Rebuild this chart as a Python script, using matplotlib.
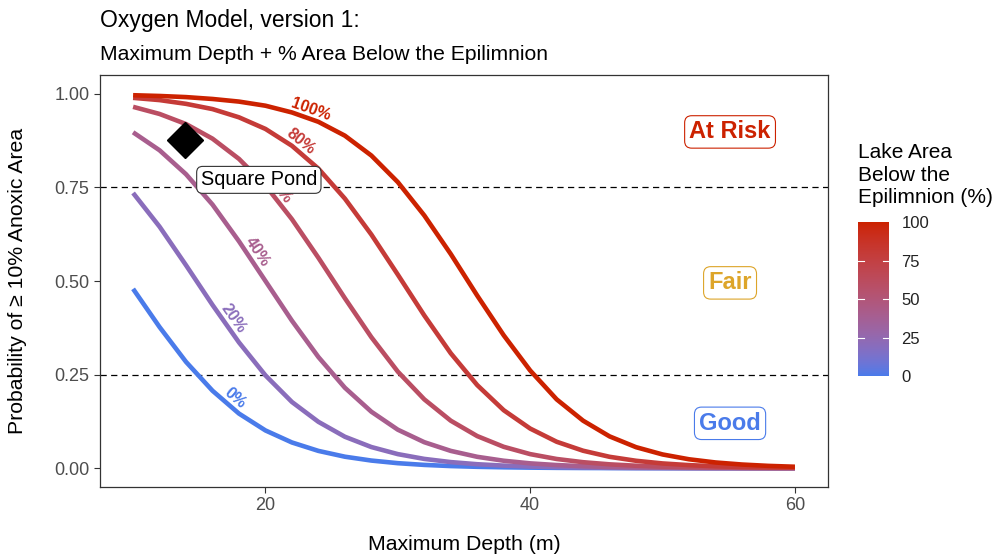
import matplotlib.pyplot as plt
import numpy as np
from matplotlib.colors import ListedColormap, to_rgb

plt.rcParams['font.family'] = ['Liberation Sans', 'DejaVu Sans']

# max depth (m) and predicted probability of >= 10% anoxic area, one list per % area below epilimnion
depth = [10, 12, 14, 16, 18, 20, 22, 24, 26, 28, 30, 32, 34,
         36, 38, 40, 42, 44, 46, 48, 50, 52, 54, 56, 58, 60]
p_0 = [0.479, 0.377, 0.284, 0.207, 0.146, 0.101, 0.0689, 0.0464, 0.0309, 0.0206, 0.0136, 0.0090, 0.0059,
       0.0039, 0.0026, 0.0017, 0.0011, 0.0007, 0.0005, 0.0003, 0.0002, 0.0001, 0.0001, 0.0001, 0.0001, 0.0001]
p_20 = [0.735, 0.645, 0.542, 0.436, 0.336, 0.248, 0.177, 0.124, 0.0842, 0.0567, 0.0378, 0.0250, 0.0165,
        0.0108, 0.0071, 0.0046, 0.0030, 0.0020, 0.0013, 0.0008, 0.0005, 0.0004, 0.0002, 0.0002, 0.0001, 0.0001]
p_40 = [0.897, 0.849, 0.785, 0.704, 0.606, 0.500, 0.394, 0.297, 0.215, 0.151, 0.103, 0.0696, 0.0464,
        0.0306, 0.0201, 0.0131, 0.0086, 0.0056, 0.0036, 0.0024, 0.0015, 0.0010, 0.0006, 0.0004, 0.0003, 0.0002]
p_60 = [0.965, 0.946, 0.919, 0.880, 0.826, 0.755, 0.665, 0.562, 0.454, 0.350, 0.258, 0.184, 0.127,
        0.0859, 0.0573, 0.0378, 0.0248, 0.0162, 0.0105, 0.0068, 0.0044, 0.0029, 0.0019, 0.0012, 0.0008, 0.0005]
p_80 = [0.989, 0.983, 0.973, 0.959, 0.937, 0.906, 0.861, 0.800, 0.720, 0.624, 0.517, 0.408, 0.307,
        0.222, 0.155, 0.106, 0.0708, 0.0468, 0.0306, 0.0200, 0.0129, 0.0084, 0.0054, 0.0035, 0.0023, 0.0015]
p_100 = [0.996, 0.994, 0.991, 0.986, 0.979, 0.968, 0.950, 0.925, 0.888, 0.835, 0.764, 0.675, 0.572,
         0.461, 0.355, 0.261, 0.184, 0.127, 0.0851, 0.0563, 0.0369, 0.0240, 0.0155, 0.0100, 0.0064, 0.0041]
area_pct = [0, 20, 40, 60, 80, 100]
curves = [p_0, p_20, p_40, p_60, p_80, p_100]
label_x = [17.25, 17.0, 18.8, 20.5, 22.25, 23.2]

pond_depth = [13.95]
pond_prob = [0.877]

cutoffs = [0.25, 0.75]
zones = ['At Risk', 'Fair', 'Good']
zone_y = [0.898, 0.495, 0.12]
zone_col = ['#CC2200', '#DDA52A', '#4A7BEA']

low, high = '#4A7BEA', '#CC2200'


# gradient in Lab space like ggplot
M = np.array([[0.4124, 0.3576, 0.1805], [0.2126, 0.7152, 0.0722], [0.0193, 0.1192, 0.9505]])
W = np.array([0.95047, 1.0, 1.08883])

def to_lab(c):
    c = np.array(to_rgb(c))
    c = np.where(c <= 0.04045, c / 12.92, ((c + 0.055) / 1.055) ** 2.4)
    t = M @ c / W
    f = np.where(t > 0.008856, np.cbrt(t), 7.787 * t + 16 / 116)
    return np.array([116 * f[1] - 16, 500 * (f[0] - f[1]), 200 * (f[1] - f[2])])

def from_lab(lab):
    fy = (lab[0] + 16) / 116
    f = np.array([fy + lab[1] / 500, fy, fy - lab[2] / 200])
    t = np.where(f ** 3 > 0.008856, f ** 3, (f - 16 / 116) / 7.787)
    c = np.linalg.solve(M, t * W)
    c = np.where(c <= 0.0031308, 12.92 * c, 1.055 * np.abs(c) ** (1 / 2.4) - 0.055)
    return np.clip(c, 0, 1)

lab_lo, lab_hi = to_lab(low), to_lab(high)
cmap = ListedColormap([from_lab(lab_lo + (lab_hi - lab_lo) * v) for v in np.linspace(0, 1, 256)])


fig = plt.figure(figsize=(9.98, 5.58), dpi=100)
ax = fig.add_axes([100 / 998, 1 - 487 / 558, 728 / 998, 412 / 558])
ax.set_xlim(7.5, 62.5)
ax.set_ylim(-0.05, 1.05)

for c in cutoffs:
    ax.axhline(c, color='black', lw=0.9, ls=(0, (5, 3.5)), zorder=1)

for pct, p, lx in zip(area_pct, curves, label_x):
    col = cmap(pct / 100)
    ax.plot(depth, p, color=col, lw=3.3, solid_capstyle='butt', zorder=2)
    ly = np.interp(lx, depth, p)
    a = ax.transData.transform([[lx - 0.5, np.interp(lx - 0.5, depth, p)],
                                [lx + 0.5, np.interp(lx + 0.5, depth, p)]])
    th = np.arctan2(a[1, 1] - a[0, 1], a[1, 0] - a[0, 0])
    off = 6.5
    ax.annotate(f'{pct}%', (lx, ly), xytext=(-off * np.sin(th), off * np.cos(th)),
                textcoords='offset points', color=col, fontsize=11.5, fontweight='bold',
                rotation=np.degrees(th), rotation_mode='anchor', ha='center', va='center', zorder=3)

ax.plot(pond_depth, pond_prob, marker='D', ms=18.5, color='black', ls='none', zorder=4)
ax.text(19.5, 0.77, 'Square Pond', fontsize=14.3, ha='center', va='center', zorder=5,
        bbox=dict(boxstyle='round,pad=0.2,rounding_size=0.3', fc='white', ec='#333333', lw=0.8))

for z, zy, zc in zip(zones, zone_y, zone_col):
    ax.text(55.1, zy, z, color=zc, fontsize=17, fontweight='bold', ha='center', va='center',
            zorder=5, bbox=dict(boxstyle='round,pad=0.2,rounding_size=0.3', fc='white', ec=zc, lw=0.8))

ax.set_xticks([20, 40, 60])
ax.set_yticks([0, 0.25, 0.5, 0.75, 1.0])
ax.set_yticklabels(['0.00', '0.25', '0.50', '0.75', '1.00'])
ax.tick_params(length=4, width=0.8, color='#333333', labelcolor='#4D4D4D', labelsize=13)
for s in ax.spines.values():
    s.set_color('#333333')
    s.set_linewidth(0.9)

fig.text(464 / 998, 1 - 545 / 558, 'Maximum Depth (m)', fontsize=15.3, ha='center', va='center')
fig.text(18 / 998, 1 - 281 / 558, 'Probability of \u2265 10% Anoxic Area', fontsize=15.3,
         rotation=90, ha='center', va='center')
fig.text(100 / 998, 1 - 21 / 558, 'Oxygen Model, version 1:', fontsize=16.5, va='center')
fig.text(100 / 998, 1 - 55 / 558, 'Maximum Depth + % Area Below the Epilimnion', fontsize=15.2, va='center')

# colour bar legend
cb = fig.add_axes([858 / 998, 1 - 376 / 558, 31 / 998, 154 / 558])
cb.imshow(np.linspace(0, 100, 256)[:, None], aspect='auto', cmap=cmap, origin='lower',
          extent=[0, 1, 0, 100])
for t in [25, 50, 75]:
    cb.plot([0, 0.2], [t, t], color='white', lw=0.8)
    cb.plot([0.8, 1], [t, t], color='white', lw=0.8)
cb.set_xlim(0, 1)
cb.set_ylim(0, 100)
cb.set_xticks([])
cb.yaxis.tick_right()
cb.set_yticks([0, 25, 50, 75, 100])
cb.tick_params(length=0, labelsize=12, labelcolor='#222222', pad=9)
for s in cb.spines.values():
    s.set_visible(False)
fig.text(858 / 998, 1 - 143 / 558, 'Lake Area\nBelow the\nEpilimnion (%)', fontsize=15,
         va='top', linespacing=1.25)

fig.savefig('out.png', dpi=100)
